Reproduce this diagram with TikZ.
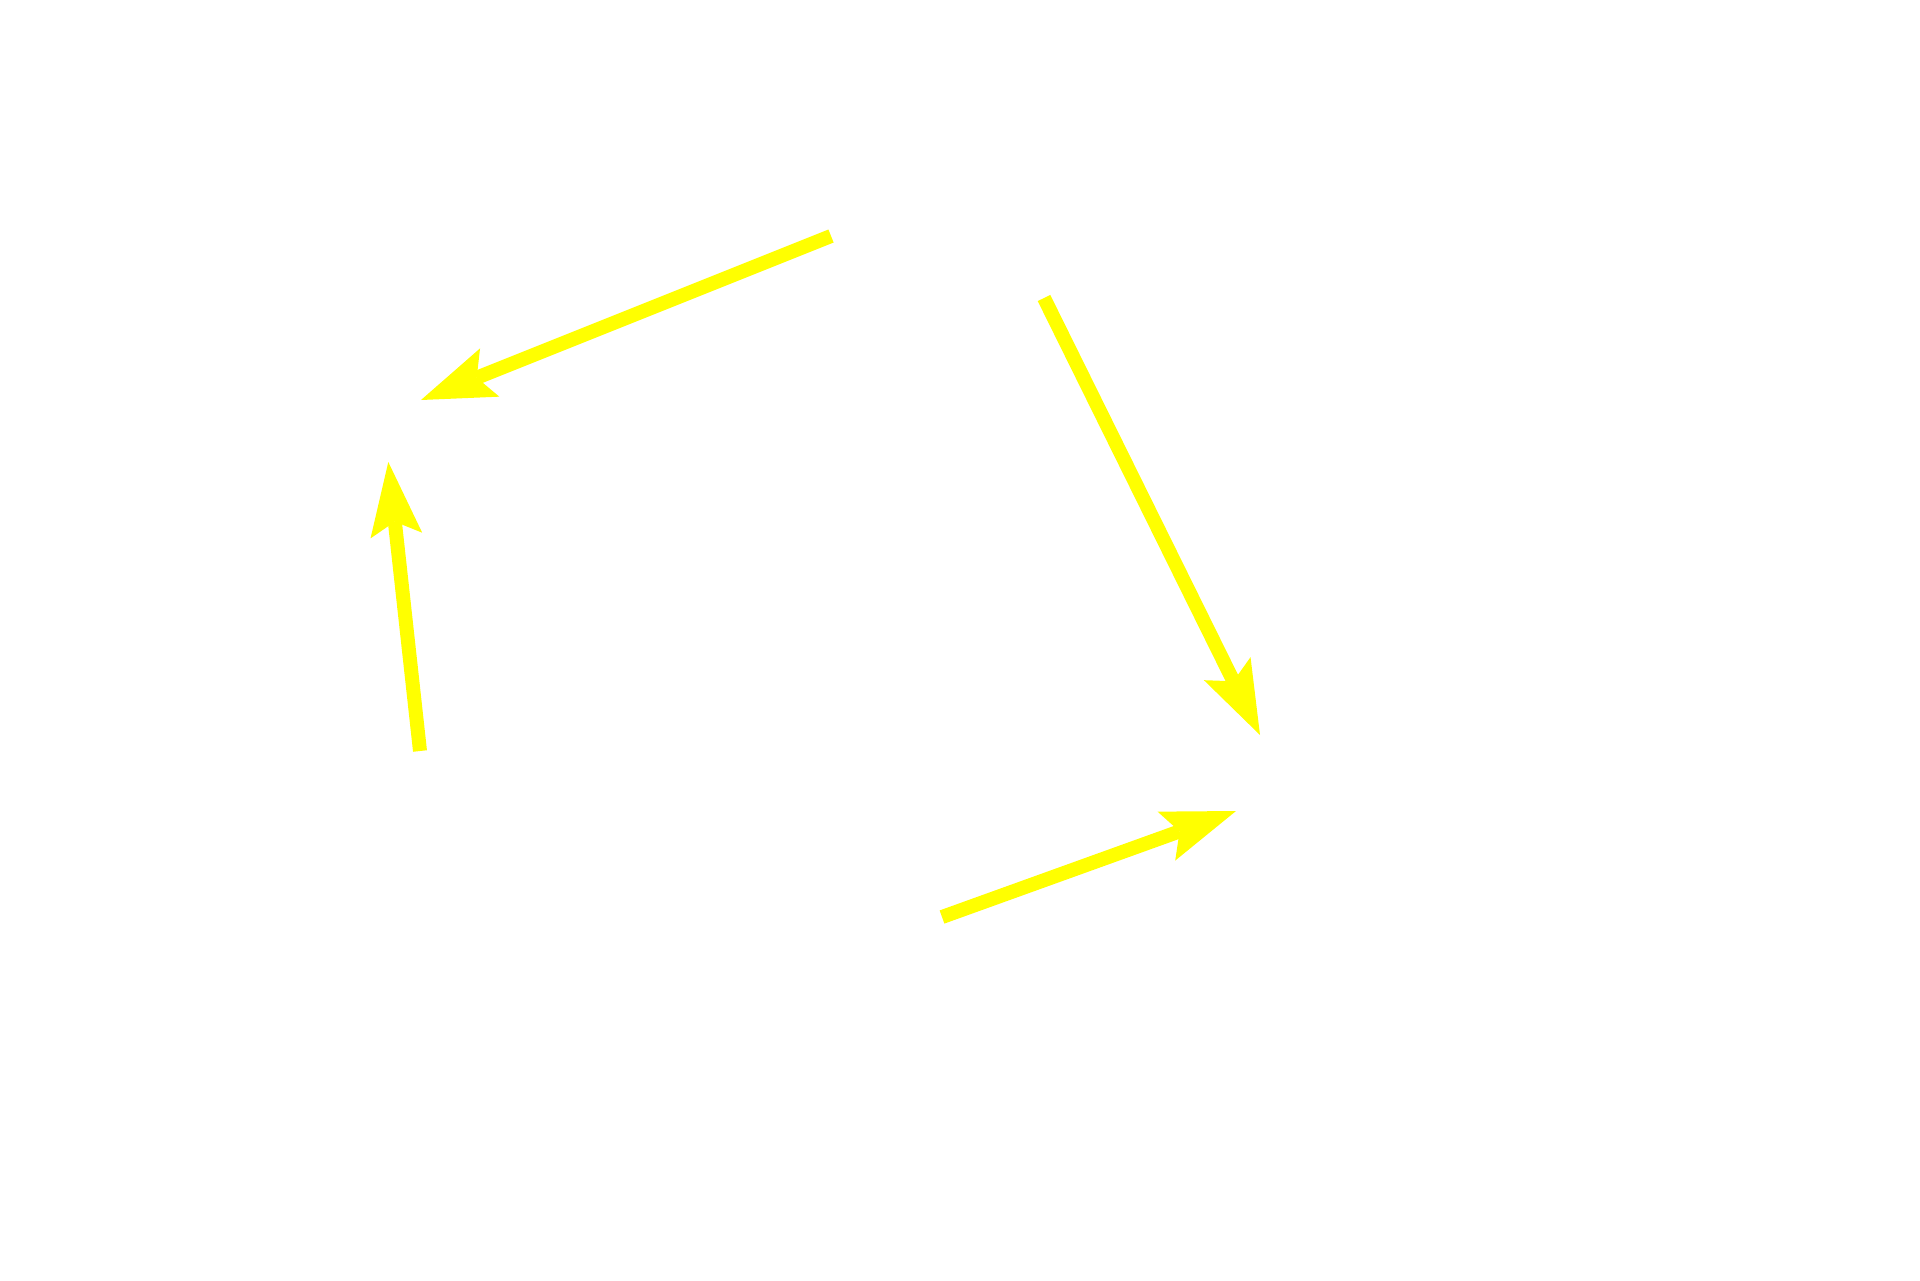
\documentclass[tikz,border=0pt]{standalone}
\usetikzlibrary{arrows.meta}
\definecolor{pointer}{RGB}{255,255,0}
\tikzset{
  yarrow/.style={draw=pointer, line width=7pt, line cap=butt,
    -{Stealth[length=37pt,width=26pt,inset=7pt,line width=0pt,fill=pointer]}}
}
\begin{document}
\begin{tikzpicture}[x=0.5pt,y=-0.5pt]
\useasboundingbox (0,0) rectangle (1920,1280);
\fill[white] (0,0) rectangle (1920,1280);
% arrow tails and tips
\coordinate (a1s) at (831,236);
\coordinate (a1e) at (421,400);
\coordinate (a2s) at (1044,298);
\coordinate (a2e) at (1260,735);
\coordinate (a3s) at (420,751);
\coordinate (a3e) at (388.3,462);
\coordinate (a4s) at (942,917);
\coordinate (a4e) at (1236,811);
\draw[yarrow] (a1s) -- (a1e);
\draw[yarrow] (a2s) -- (a2e);
\draw[yarrow] (a3s) -- (a3e);
\draw[yarrow] (a4s) -- (a4e);
\end{tikzpicture}
\end{document}
